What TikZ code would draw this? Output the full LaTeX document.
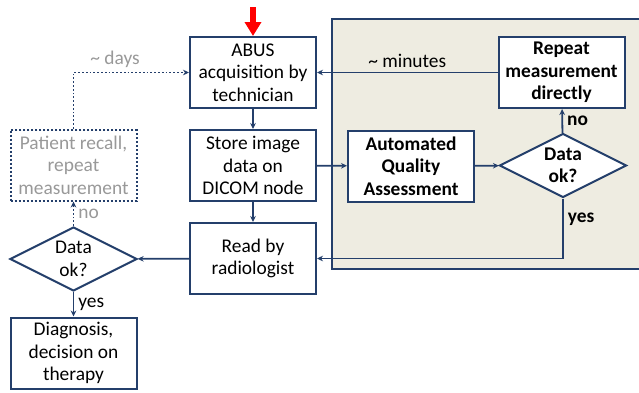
\documentclass[tikz,border=0pt]{standalone}
\usepackage{fontspec}
\setmainfont{Carlito}
\usetikzlibrary{shapes.geometric,arrows.meta}

\definecolor{navy}{HTML}{243F6B}
\definecolor{panel}{HTML}{EEECE1}
\definecolor{greytext}{HTML}{999999}

\begin{document}
\begin{tikzpicture}[x=0.5pt,y=-0.5pt,
  txt/.style={font=\fontsize{9.7}{11.2}\selectfont},
  box/.style={txt,draw=navy,line width=1pt,fill=white,align=center,
    minimum width=63pt,minimum height=35.5pt,inner sep=1pt},
  boldbox/.style={box,font=\fontsize{9.7}{11.2}\selectfont\bfseries},
  recallbox/.style={box,draw=navy,densely dotted,text=greytext},
  decision/.style={txt,diamond,draw=navy,line width=1pt,fill=white,align=center,
    aspect=2,inner sep=0pt,minimum width=63.5pt,minimum height=32pt},
  link/.style={draw=navy,line width=0.9pt,-{Stealth[length=3pt,width=2.8pt]}},
  dotlink/.style={link,densely dotted},
  lbl/.style={txt,inner sep=2pt}]
\useasboundingbox (0,0) rectangle (639,392);

% shaded panel on the right
\draw[draw=navy,line width=0.9pt,fill=panel] (332,19) rectangle (660,269);

% main column
\node[box] (abus) at (253,72.5) {ABUS\\acquisition by\\technician};
\node[box] (store) at (253,165.5) {Store image\\data on\\DICOM node};
\node[box] (read) at (253,258.5) {Read by\\radiologist};

% left column
\node[recallbox] (recall) at (73.5,165) {Patient recall,\\repeat\\measurement};
\node[decision] (okl) at (73.5,259) {Data\\ok?};
\node[box] (diag) at (73.5,353) {Diagnosis,\\decision on\\therapy};

% automated quality check
\node[boldbox] (aqa) at (411,166) {Automated\\Quality\\Assessment};
\node[decision,font=\fontsize{9.7}{11.2}\selectfont\bfseries] (okr) at (563,165.5) {Data\\ok?};
\node[boldbox] (repeat) at (561.5,72.5) {Repeat\\measurement\\directly};

% start arrow
\coordinate (start) at (253,7);
\draw[red,line width=3pt,-{Triangle[width=8pt,length=7pt]}] (start) -- (abus.north);

% connectors
\draw[link] (abus) -- (store);
\draw[link] (store) -- (read);
\draw[link] (store) -- (aqa);
\draw[link] (aqa) -- (okr);
\draw[link] (okr) -- node[lbl,right,font=\fontsize{9.7}{11.2}\selectfont\bfseries]{no} (repeat);
\draw[link] (repeat) -- node[lbl,above]{\textasciitilde{} minutes} (abus);
\draw[link] (okr.south) |- node[lbl,pos=0.17,right,font=\fontsize{9.7}{11.2}\selectfont\bfseries]{yes} (read.east);
\draw[link] (read) -- (okl);
\draw[link] (okl) -- node[lbl,right]{yes} (diag);
\draw[dotlink] (okl) -- node[lbl,right,text=greytext]{no} (recall);
\draw[dotlink] (recall.north) |- node[lbl,pos=0.68,above,text=greytext]{\textasciitilde{} days} (abus.west);

\end{tikzpicture}
\end{document}
